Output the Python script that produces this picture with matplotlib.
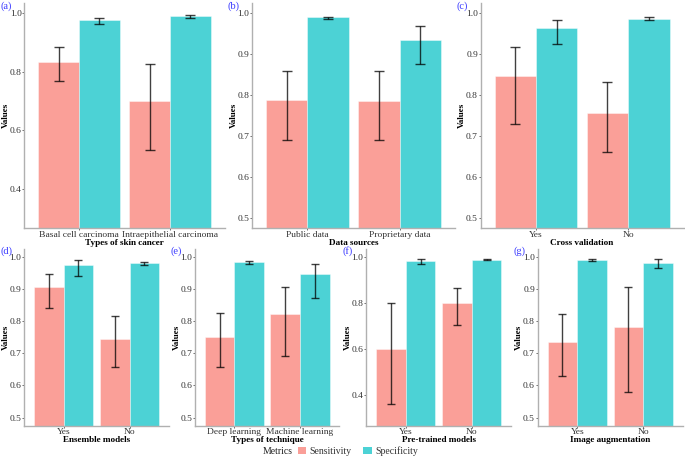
import matplotlib
matplotlib.use("Agg")
import matplotlib.pyplot as plt
from matplotlib.patches import Patch

plt.rcParams['font.family'] = ['Liberation Serif', 'DejaVu Serif']

COL_SENS = '#F8766D'
COL_SPEC = '#00BFC4'
AXIS_GRAY = '#b0b0b0'

# panel data: categories, sensitivity (mean, lo, hi), specificity (mean, lo, hi)
CATS_A = ["Basal cell carcinoma", "Intraepithelial carcinoma"]
SENS_A = [0.833, 0.699]
SENS_A_LO = [0.768, 0.533]
SENS_A_HI = [0.885, 0.827]
SPEC_A = [0.976, 0.991]
SPEC_A_LO = [0.963, 0.985]
SPEC_A_HI = [0.985, 0.995]

CATS_B = ["Public data", "Proprietary data"]
SENS_B = [0.787, 0.785]
SENS_B_LO = [0.689, 0.690]
SENS_B_HI = [0.859, 0.858]
SPEC_B = [0.990, 0.935]
SPEC_B_LO = [0.986, 0.877]
SPEC_B_HI = [0.992, 0.968]

CATS_C = ["Yes", "No"]
SENS_C = [0.846, 0.757]
SENS_C_LO = [0.730, 0.662]
SENS_C_HI = [0.918, 0.832]
SPEC_C = [0.965, 0.987]
SPEC_C_LO = [0.926, 0.983]
SPEC_C_HI = [0.984, 0.992]

CATS_D = ["Yes", "No"]
SENS_D = [0.906, 0.744]
SENS_D_LO = [0.839, 0.657]
SENS_D_HI = [0.946, 0.815]
SPEC_D = [0.975, 0.979]
SPEC_D_LO = [0.939, 0.973]
SPEC_D_HI = [0.989, 0.983]

CATS_E = ["Deep learning", "Machine learning"]
SENS_E = [0.751, 0.823]
SENS_E_LO = [0.657, 0.690]
SENS_E_HI = [0.826, 0.904]
SPEC_E = [0.983, 0.946]
SPEC_E_LO = [0.978, 0.872]
SPEC_E_HI = [0.987, 0.976]

CATS_F = ["Yes", "No"]
SENS_F = [0.597, 0.797]
SENS_F_LO = [0.358, 0.703]
SENS_F_HI = [0.799, 0.865]
SPEC_F = [0.981, 0.987]
SPEC_F_LO = [0.969, 0.983]
SPEC_F_HI = [0.990, 0.990]

CATS_G = ["Yes", "No"]
SENS_G = [0.736, 0.782]
SENS_G_LO = [0.628, 0.581]
SENS_G_HI = [0.822, 0.904]
SPEC_G = [0.990, 0.980]
SPEC_G_LO = [0.987, 0.964]
SPEC_G_HI = [0.992, 0.991]

W, H = 685, 458
fig = plt.figure(figsize=(W / 100, H / 100), dpi=100)


def rect(x0, y0, x1, y1):
    return [x0 / W, 1 - y1 / H, (x1 - x0) / W, (y1 - y0) / H]


panels = [
    ("(a)", "Types of skin cancer", CATS_A, SENS_A, SENS_A_LO, SENS_A_HI, SPEC_A, SPEC_A_LO, SPEC_A_HI,
     rect(24.4, 3, 224.6, 228), (0.3, 1.0), [0.4, 0.6, 0.8, 1.0]),
    ("(b)", "Data sources", CATS_B, SENS_B, SENS_B_LO, SENS_B_HI, SPEC_B, SPEC_B_LO, SPEC_B_HI,
     rect(252, 3, 455, 228), (0.5, 1.0), [0.5, 0.6, 0.7, 0.8, 0.9, 1.0]),
    ("(c)", "Cross validation", CATS_C, SENS_C, SENS_C_LO, SENS_C_HI, SPEC_C, SPEC_C_LO, SPEC_C_HI,
     rect(480.7, 3, 683.5, 228), (0.5, 1.0), [0.5, 0.6, 0.7, 0.8, 0.9, 1.0]),
    ("(d)", "Ensemble models", CATS_D, SENS_D, SENS_D_LO, SENS_D_HI, SPEC_D, SPEC_D_LO, SPEC_D_HI,
     rect(24, 248.5, 169.2, 425.7), (0.5, 1.0), [0.5, 0.6, 0.7, 0.8, 0.9, 1.0]),
    ("(e)", "Types of technique", CATS_E, SENS_E, SENS_E_LO, SENS_E_HI, SPEC_E, SPEC_E_LO, SPEC_E_HI,
     rect(194.9, 248.5, 339.4, 425.7), (0.5, 1.0), [0.5, 0.6, 0.7, 0.8, 0.9, 1.0]),
    ("(f)", "Pre-trained models", CATS_F, SENS_F, SENS_F_LO, SENS_F_HI, SPEC_F, SPEC_F_LO, SPEC_F_HI,
     rect(366.1, 248.5, 511.3, 425.7), (0.3, 1.0), [0.4, 0.6, 0.8, 1.0]),
    ("(g)", "Image augmentation", CATS_G, SENS_G, SENS_G_LO, SENS_G_HI, SPEC_G, SPEC_G_LO, SPEC_G_HI,
     rect(537.7, 248.5, 682.9, 425.7), (0.5, 1.0), [0.5, 0.6, 0.7, 0.8, 0.9, 1.0]),
]

bw = 0.45
for tag, xlab, cats, s, slo, shi, p, plo, phi, r, ylim, yticks in panels:
    ax = fig.add_axes(r)
    wpx = r[2] * W
    xs = list(range(1, len(cats) + 1))
    xs_s = [x - bw / 2 for x in xs]
    xs_p = [x + bw / 2 for x in xs]
    ax.bar(xs_s, s, width=bw, color=COL_SENS, alpha=0.7, edgecolor='white', linewidth=0.4)
    ax.bar(xs_p, p, width=bw, color=COL_SPEC, alpha=0.7, edgecolor='white', linewidth=0.4)
    cap = 0.055 * wpx / (len(cats) + 0.2) * 0.72
    for xx, m, lo, hi in list(zip(xs_s, s, slo, shi)) + list(zip(xs_p, p, plo, phi)):
        ax.errorbar(xx, m, yerr=[[m - lo], [hi - m]], fmt='none', ecolor='black',
                    elinewidth=1.0, capsize=cap, capthick=1.0, alpha=0.75)
    span = ylim[1] - ylim[0]
    ax.set_ylim(ylim[0] - 0.05 * span, ylim[1] + 0.05 * span)
    ax.set_xlim(0.4, len(cats) + 0.6)
    ax.set_yticks(yticks)
    ax.set_yticklabels([f"{t:.1f}" for t in yticks])
    ax.set_xticks(xs)
    ax.set_xticklabels(cats)
    for sp in ('top', 'right'):
        ax.spines[sp].set_visible(False)
    for sp in ('left', 'bottom'):
        ax.spines[sp].set_color(AXIS_GRAY)
        ax.spines[sp].set_linewidth(1.0)
    ax.tick_params(axis='both', length=1.5, width=0.6, color='#555555',
                   labelsize=6.8, labelcolor='#333333', pad=0.5)
    ax.set_xlabel(xlab, fontsize=6.6, fontweight='bold', labelpad=0)
    ax.set_ylabel("Values", fontsize=6.6, fontweight='bold')
    ax.yaxis.set_label_coords(-14.5 / wpx, 0.5)
    ax.set_facecolor('none')
    x0 = r[0] * W
    y0 = (1 - r[1] - r[3]) * H
    fig.text((x0 - 24) / W, 1 - (y0 + 3) / H, tag, color='#3a3aff', fontsize=7.5,
             ha='left', va='center')

# legend
fig.text(263 / W, 1 - 451 / H, "Metrics", fontsize=7, color='#222222', ha='left', va='center')
handles = [Patch(facecolor=COL_SENS, alpha=0.7, edgecolor='none'),
           Patch(facecolor=COL_SPEC, alpha=0.7, edgecolor='none')]
fig.legend(handles, ["Sensitivity", "Specificity"], ncol=2, loc='center left',
           bbox_to_anchor=(298 / W, 1 - 451 / H), frameon=False, fontsize=7,
           handlelength=0.85, handleheight=0.85, handletextpad=0.35, columnspacing=1.2,
           borderaxespad=0, borderpad=0, labelcolor='#333333')

fig.savefig("out.png", dpi=100)
